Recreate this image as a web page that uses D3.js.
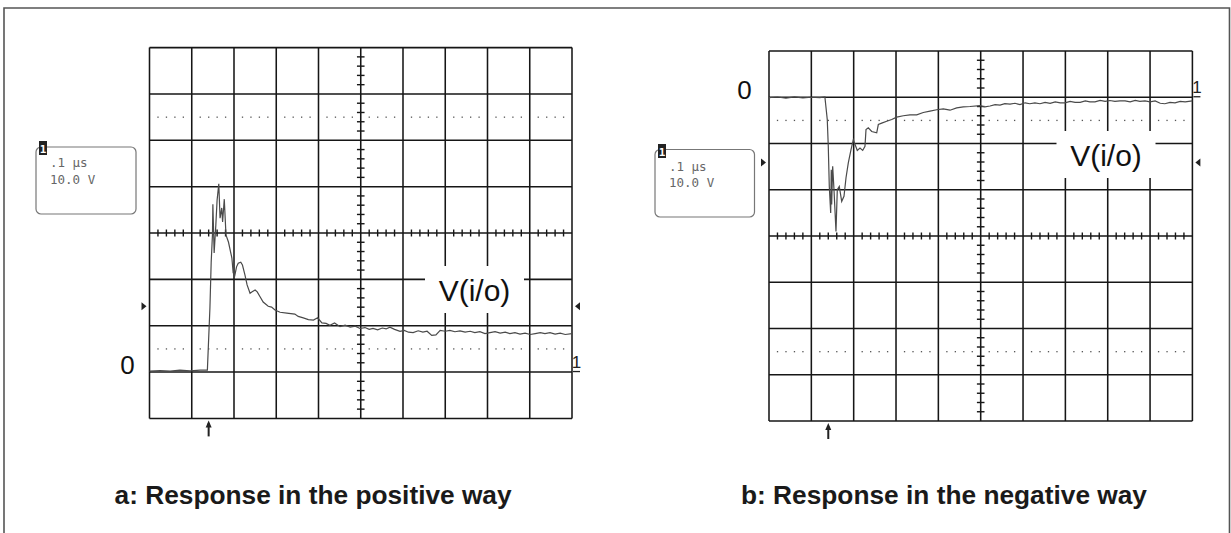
<!DOCTYPE html>
<html><head><meta charset="utf-8">
<script src="https://cdn.jsdelivr.net/npm/d3@7"></script>
<style>body{margin:0;background:#fff}svg{display:block}</style>
</head><body>
<svg id="c" width="1231" height="533"></svg>
<script>
// ---- data ----
const timeTicks = [0, 0.1, 0.2, 0.3, 0.4, 0.5, 0.6, 0.7, 0.8, 0.9, 1.0];      // µs (0.1 µs/div)
const posVoltTicks = [-10, 0, 10, 20, 30, 40, 50, 60, 70];                  // V (10 V/div)
const negVoltTicks = [-70, -60, -50, -40, -30, -20, -10, 0, 10];
const captions = ["a: Response in the positive way", "b: Response in the negative way"];
const scaleText = [".1 \u00b5s", "10.0 V"];
const traceLabel = "V(i/o)";
const triggerTime = 0.14;
const triggerLevels = [14.2, -14.1];

const posTime = [0,0.025,0.049,0.072,0.096,0.12,0.137,0.143,0.146,0.149,0.150,0.153,0.157,0.160,0.164,0.167,0.171,0.173,0.177,0.181,0.187,0.195,0.198,0.202,0.206,0.210,0.216,0.220,0.226,0.231,0.238,0.243,0.250,0.255,0.262,0.269,0.281,0.289,0.297,0.309,0.325,0.344,0.352,0.364,0.376,0.388,0.398,0.408,0.418,0.427,0.438,
  0.451,0.463,0.475,0.487,0.498,0.510,0.520,0.529,0.540,0.551,0.560,0.569,0.580,0.593,0.603,0.613,0.624,0.636,0.647,0.657,0.668,0.678,0.688,0.700,0.711,0.723,0.735,0.747,0.759,0.770,0.782,0.794,0.806,0.818,0.830,0.842,0.853,0.865,0.877,0.889,0.901,0.913,0.925,0.936,0.948,0.960,0.972,0.984,1.0];
const posVolt = [0.2,0.3,0.2,0.4,0.26,0.43,0.43,13.8,23.7,29.6,36.2,25.7,31.7,37.1,40.6,33.2,35.4,32.4,37.3,29.6,28.0,24.6,21.4,20.9,22.7,23.5,23.7,23.1,20.9,18.8,17.0,17.3,17.7,17.3,16.2,15.1,14.2,14.0,13.4,12.9,12.7,12.5,12.0,11.7,11.3,11.2,11.7,10.6,10.5,10.1,10.6,
  9.8,10.1,9.7,9.9,9.4,9.6,9.2,9.4,9.1,9.5,9.3,9.7,9.2,8.8,9.0,8.6,8.5,8.9,8.6,8.8,7.9,8.0,9.0,8.8,9.0,8.7,8.9,8.6,8.8,8.5,8.7,8.3,8.5,8.7,8.4,8.6,8.3,8.5,8.2,8.4,8.1,8.3,8.5,8.3,8.5,8.2,8.4,8.1,8.3];

const negTime = [0,0.02,0.04,0.06,0.08,0.10,0.12,0.132,0.1376,0.140,0.1424,0.1457,0.1471,0.148,0.1504,0.1535,0.1582,0.1613,0.166,0.1717,0.1771,0.1819,0.1873,0.1937,0.1991,0.2048,0.2085,0.2149,0.2213,0.2267,0.2291,0.2345,0.2426,0.2544,0.2582,0.2662,0.278,0.2898,0.3016,0.3172,0.333,0.3488,0.3644,0.3803,0.396,0.4117,0.4275,0.4433,0.4589,0.4747,0.4983,
  0.510,0.522,0.534,0.5456,0.557,0.5692,0.581,0.5928,0.605,0.616,0.628,0.640,0.652,0.664,0.676,0.688,0.699,0.711,0.723,0.735,0.747,0.758,0.770,0.782,0.794,0.805,0.817,0.829,0.841,0.853,0.865,0.876,0.888,0.900,0.912,0.924,0.935,0.947,0.959,0.971,0.983,1.0];
const negVolt = [-0.1,0.05,-0.2,0.1,-0.15,0.0,-0.1,0.05,-4.8,-10.6,-19.3,-25.0,-15.7,-23.2,-14.9,-20.0,-29.0,-20.0,-19.3,-22.5,-21.4,-17.4,-14.2,-11.3,-9.2,-10.6,-11.5,-11.0,-11.5,-10.6,-7.0,-6.6,-7.4,-7.7,-5.9,-5.6,-5.2,-4.8,-4.3,-4.0,-3.8,-3.8,-3.3,-3.0,-2.7,-2.5,-2.8,-2.3,-2.1,-2.0,-1.8,
  -2.1,-1.9,-1.6,-1.7,-1.4,-1.5,-1.3,-1.6,-1.2,-1.4,-1.2,-1.4,-1.1,-1.3,-1.0,-1.2,-1.2,-0.9,-1.1,-1.1,-0.8,-1.0,-1.0,-0.7,-0.9,-0.7,-0.9,-0.8,-0.8,-1.0,-0.7,-0.9,-0.8,-1.0,-0.8,-1.3,-1.4,-1.1,-1.2,-0.9,-1.0,-0.8];

// ---- layout ----
const panels = [
  {x0:149.5, x1:572, yTop:47.6, yBot:418.4, vt:posVoltTicks, t:posTime, v:posVolt, axisV:30, dotV:[55,5],
   trig:triggerLevels[0], labelX:474.5, labelBase:301, zeroX:127.5, zeroBase:374,
   box:{x:36,y:147,w:100,h:67, ix:39, iy:141, tx:50, tb:[167,184]}, cap:{x:114.6, len:397}},
  {x0:769, x1:1192.4, yTop:51, yBot:421, vt:negVoltTicks, t:negTime, v:negVolt, axisV:-30, dotV:[-5,-55],
   trig:triggerLevels[1], labelX:1106, labelBase:166, zeroX:744.4, zeroBase:98.5,
   box:{x:655,y:149.5,w:99.5,h:67.5, ix:658, iy:144, tx:669, tb:[170.5,187]}, cap:{x:741, len:406}}
];

const svg = d3.select("#c");
svg.append("path").attr("d","M4,533V8H1229.5V533").attr("fill","none").attr("stroke","#555").attr("stroke-width",1.6);

panels.forEach((p, pi) => {
  const x = d3.scaleLinear().domain([timeTicks[0], timeTicks[timeTicks.length-1]]).range([p.x0, p.x1]);
  const y = d3.scaleLinear().domain([p.vt[0], p.vt[p.vt.length-1]]).range([p.yBot, p.yTop]);
  const g = svg.append("g");
  const gridC = "#161616";
  // grid
  g.selectAll(".vl").data(timeTicks).join("line")
    .attr("x1", d => x(d)).attr("x2", d => x(d)).attr("y1", p.yTop).attr("y2", p.yBot)
    .attr("stroke", gridC).attr("stroke-width", 1.55);
  g.selectAll(".hl").data(p.vt).join("line").attr("class","hl")
    .attr("y1", d => y(d)).attr("y2", d => y(d)).attr("x1", p.x0).attr("x2", p.x1)
    .attr("stroke", gridC).attr("stroke-width", 1.55);
  // minor ticks
  const tMinor = d3.range(1, 50).map(i => i * 0.02).filter((d, i) => (i + 1) % 5 !== 0);
  const vSpan = p.vt[p.vt.length-1] - p.vt[0];
  const vMinor = d3.range(1, vSpan / 2).map(i => p.vt[0] + i * 2).filter(d => Math.abs(d % 10) > 0.01);
  const tc = x(0.5), vc = y(p.axisV);
  g.selectAll(".mt").data(tMinor).join("line")
    .attr("x1", d => x(d)).attr("x2", d => x(d)).attr("y1", vc - 3.5).attr("y2", vc + 3.5)
    .attr("stroke", gridC).attr("stroke-width", 1.4);
  g.selectAll(".mv").data(vMinor).join("line")
    .attr("y1", d => y(d)).attr("y2", d => y(d)).attr("x1", tc - 3.8).attr("x2", tc + 3.8)
    .attr("stroke", gridC).attr("stroke-width", 1.4);
  // dotted reference lines
  p.dotV.forEach(dv => {
    g.selectAll(null).data(tMinor).join("rect")
      .attr("x", d => x(d) - 0.6).attr("y", y(dv) - 0.6).attr("width", 1.3).attr("height", 1.3)
      .attr("fill", "#555");
  });
  // label background + label
  g.append("rect").attr("x", p.labelX - 49.5).attr("y", p.labelBase - 35).attr("width", 99).attr("height", 47).attr("fill", "#fff");
  g.append("text").attr("x", p.labelX).attr("y", p.labelBase).attr("text-anchor", "middle")
    .attr("font-family", "Liberation Sans, Arial, sans-serif").attr("font-size", 30).attr("fill", "#111").text(traceLabel);
  // trace
  const line = d3.line().x((d, i) => x(p.t[i])).y(d => y(d));
  g.append("path").attr("d", line(p.v)).attr("fill", "none").attr("stroke", "#4a4a4a").attr("stroke-width", 1.2);
  // zero label
  g.append("text").attr("x", p.zeroX).attr("y", p.zeroBase).attr("text-anchor", "middle")
    .attr("font-family", "Liberation Sans, Arial, sans-serif").attr("font-size", 26).attr("fill", "#111").text("0");
  // channel "1" marker
  const z = y(0);
  g.append("text").attr("x", p.x1 + 4.5).attr("y", z - 4).attr("text-anchor", "middle")
    .attr("font-family", "Liberation Sans, Arial, sans-serif").attr("font-size", 17).attr("fill", "#222").text("1");
  g.append("line").attr("x1", p.x1 + 1).attr("x2", p.x1 + 8).attr("y1", z - 0.5).attr("y2", z - 0.5).attr("stroke", "#222").attr("stroke-width", 1.3);
  // trigger level triangles
  const ty = y(p.trig);
  g.append("path").attr("d", `M${p.x0-8},${ty-4}L${p.x0-3},${ty}L${p.x0-8},${ty+4}Z`).attr("fill", "#222");
  g.append("path").attr("d", `M${p.x1+8},${ty-4}L${p.x1+3},${ty}L${p.x1+8},${ty+4}Z`).attr("fill", "#222");
  // trigger time arrow
  const ax = x(triggerTime);
  g.append("line").attr("x1", ax).attr("x2", ax).attr("y1", p.yBot + 5).attr("y2", p.yBot + 18).attr("stroke", "#222").attr("stroke-width", 2);
  g.append("path").attr("d", `M${ax-3},${p.yBot+9}L${ax},${p.yBot+2}L${ax+3},${p.yBot+9}Z`).attr("fill", "#222");
  // info box
  const b = p.box;
  g.append("rect").attr("x", b.x).attr("y", b.y).attr("width", b.w).attr("height", b.h).attr("rx", 5)
    .attr("fill", "none").attr("stroke", "#777").attr("stroke-width", 1.2);
  g.append("rect").attr("x", b.ix).attr("y", b.iy).attr("width", 8).attr("height", 14).attr("fill", "#222");
  g.append("text").attr("x", b.ix + 4).attr("y", b.iy + 11.5).attr("text-anchor", "middle")
    .attr("font-family", "DejaVu Sans Mono, monospace").attr("font-size", 11).attr("font-weight", "bold").attr("fill", "#fff").text("1");
  scaleText.forEach((s, i) => {
    g.append("text").attr("x", b.tx).attr("y", b.tb[i]).attr("font-family", "DejaVu Sans Mono, monospace")
      .attr("font-size", 12.5).attr("fill", "#666").text(s);
  });
  // caption
  g.append("text").attr("x", p.cap.x).attr("y", 504).attr("font-family", "Liberation Sans, Arial, sans-serif")
    .attr("font-weight", "bold").attr("font-size", 25).attr("fill", "#1a1a1a")
    .attr("textLength", p.cap.len).attr("lengthAdjust", "spacingAndGlyphs").text(captions[pi]);
});
</script>
</body></html>
